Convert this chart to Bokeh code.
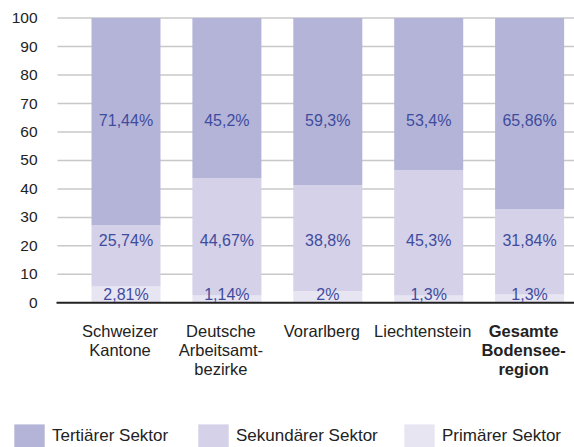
from bokeh.plotting import figure
from bokeh.models import ColumnDataSource, Range1d, Legend, LegendItem
from bokeh.core.properties import value
from bokeh.embed import file_html
from bokeh.resources import INLINE

# ---- data -------------------------------------------------------------
categories = ["Schweizer\nKantone", "Deutsche\nArbeitsamt-\nbezirke", "Vorarlberg",
              "Liechtenstein", "Gesamte\nBodensee-\nregion"]
category_bold = [False, False, False, False, True]
# bar heights as drawn in the chart
primary_height = [5.7, 2.6, 4.1, 2.6, 2.9]
secondary_height = [21.5, 41.2, 37.2, 44.0, 30.0]
tertiary_height = [72.8, 56.2, 58.7, 53.4, 67.1]
# value labels
primary_labels = ["2,81%", "1,14%", "2%", "1,3%", "1,3%"]
secondary_labels = ["25,74%", "44,67%", "38,8%", "45,3%", "31,84%"]
tertiary_labels = ["71,44%", "45,2%", "59,3%", "53,4%", "65,86%"]
series_names = ["Tertiärer Sektor", "Sekundärer Sektor", "Primärer Sektor"]
y_ticks = [0, 10, 20, 30, 40, 50, 60, 70, 80, 90, 100]

# ---- layout (pixels) --------------------------------------------------
W, H = 574, 447
UX = 100.9            # px per category
X_FIRST = 125.5       # px centre of first bar
KY = 2.847            # px per percent
Y_ZERO = 302.3        # px of value 0
X0 = -X_FIRST / UX
X1 = X0 + W / UX
Y0 = -(H - Y_ZERO) / KY
Y1 = Y_ZERO / KY


def dx(px):
    return X0 + px / UX


def dy(px):
    return (Y_ZERO - px) / KY


FONT = "Liberation Sans"
DARK = "#222222"

p = figure(width=W, height=H, output_backend="svg", toolbar_location=None,
           x_range=Range1d(X0, X1), y_range=Range1d(Y0, Y1),
           x_axis_location=None, y_axis_location=None, min_border=0)
p.outline_line_color = None
p.grid.visible = False
p.background_fill_color = "white"
p.border_fill_color = "white"

# grid lines + baseline
grid_vals = [t for t in y_ticks if t > 0]
p.segment(x0=dx(57), x1=X1, y0=grid_vals, y1=grid_vals,
          line_color="#c8c8c8", line_width=1.5)

xs = list(range(len(categories)))
src = ColumnDataSource(dict(x=xs, prim=primary_height, sek=secondary_height,
                            tert=tertiary_height, pl=primary_labels,
                            sl=secondary_labels, tl=tertiary_labels))
colors = ["#e8e5f3", "#d4d1e8", "#b4b4d8"]
rends = p.vbar_stack(["prim", "sek", "tert"], x="x", width=0.684, color=colors,
                     line_color=None, source=src)

p.segment(x0=dx(56), x1=X1, y0=0, y1=0, line_color=DARK, line_width=2)

# value labels
txt = dict(text_font=value(FONT), text_font_size="16px", text_color="#3f4c9e",
           text_align="center", text_baseline="middle", source=src)
p.text(x="x", y=64, text="tl", **txt)
p.text(x="x", y=22, text="sl", **txt)
p.text(x="x", y=3.0, text="pl", **txt)

# y tick labels
p.text(x=dx(37), y=y_ticks, text=[str(t) for t in y_ticks],
       text_font=value(FONT), text_font_size="15.5px", text_color=DARK,
       text_align="right", text_baseline="middle")

# category labels (one row per line)
cx, cy, ct, cs = [], [], [], []
for i, (cat, bold) in enumerate(zip(categories, category_bold)):
    for j, line in enumerate(cat.split("\n")):
        cx.append(i - 6 / UX)
        cy.append(dy(330 + 19.2 * j))
        ct.append(line)
        cs.append("bold" if bold else "normal")
csrc = ColumnDataSource(dict(x=cx, y=cy, t=ct, s=cs))
p.text(x="x", y="y", text="t", text_font_style="s", source=csrc,
       text_font=value(FONT), text_font_size="16.5px", text_color=DARK,
       text_align="center", text_baseline="alphabetic")

# legend (three single-item legends)
leg_x = [10, 194, 400]
for name, rend, lx in zip(series_names, rends[::-1], leg_x):
    leg = Legend(items=[LegendItem(label=name, renderers=[rend])],
                 location=(lx, -3), orientation="horizontal",
                 glyph_width=38, glyph_height=29, label_standoff=4,
                 label_height=29, padding=0, margin=0, spacing=0,
                 border_line_alpha=0, background_fill_alpha=0,
                 label_text_font=FONT, label_text_font_size="17px",
                 label_text_color=DARK)
    p.add_layout(leg, "center")

open("out.html", "w").write(file_html(p, INLINE))
